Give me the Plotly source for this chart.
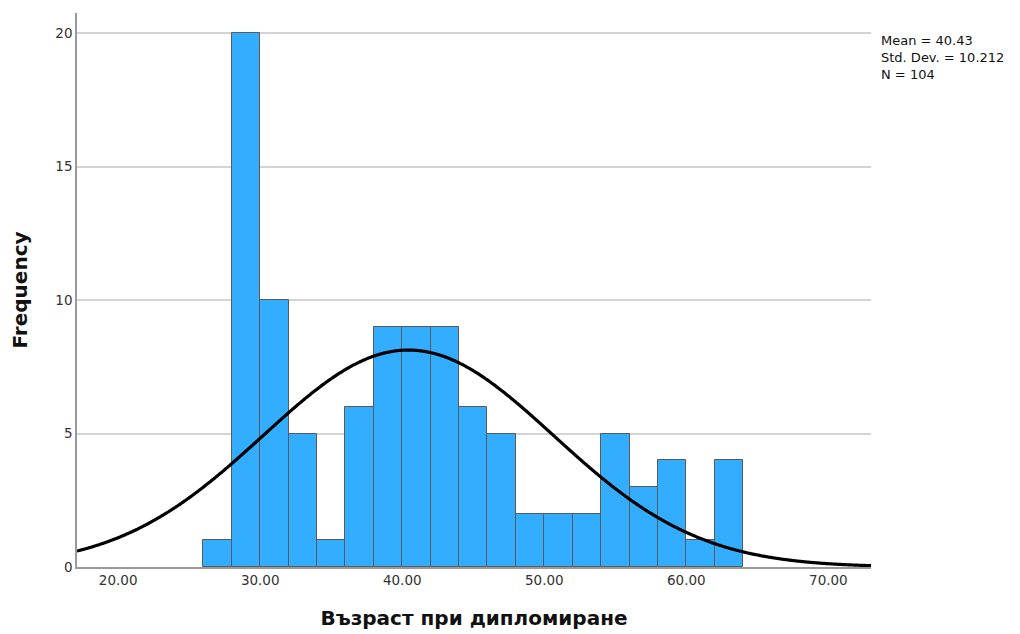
import numpy as np
import plotly.graph_objects as go

# Histogram bins (lower edges), bin width 2
bin_starts = [26, 28, 30, 32, 34, 36, 38, 40, 42, 44, 46, 48, 50, 52, 54, 56, 58, 60, 62]
counts = [1, 20, 10, 5, 1, 6, 9, 9, 9, 6, 5, 2, 2, 2, 5, 3, 4, 1, 4]
bin_width = 2

# Summary statistics shown on the chart
mean = 40.43
std_dev = 10.212
n = 104

x_tick_vals = [20, 30, 40, 50, 60, 70]
x_tick_text = ["20.00", "30.00", "40.00", "50.00", "60.00", "70.00"]
y_tick_vals = [0, 5, 10, 15, 20]

x_min, x_max = 17.1, 73.0

centers = [s + bin_width / 2 for s in bin_starts]

fig = go.Figure()
fig.add_trace(go.Bar(
    x=centers, y=counts, width=bin_width,
    marker=dict(color="#33adff", line=dict(color="#5a5a5a", width=1)),
    hoverinfo="x+y", showlegend=False,
))

# Normal curve implied by mean / std. dev. / N
xs = np.linspace(x_min, x_max, 600)
ys = n * bin_width / (std_dev * np.sqrt(2 * np.pi)) * np.exp(-0.5 * ((xs - mean) / std_dev) ** 2)
fig.add_trace(go.Scatter(x=xs, y=ys, mode="lines",
                         line=dict(color="black", width=3.2, shape="spline"), showlegend=False,
                         hoverinfo="skip"))

fig.add_annotation(
    xref="paper", yref="paper", x=1.0, y=1.0, xanchor="left", yanchor="top",
    xshift=8, yshift=-18, align="left", showarrow=False,
    text=f"Mean = {mean:.2f}<br>Std. Dev. = {std_dev:.3f}<br>N = {n}",
    font=dict(family="DejaVu Sans", size=13, color="#111"),
)

fig.update_layout(
    width=1020, height=634,
    margin=dict(l=69, r=157, t=5, b=75),
    paper_bgcolor="white", plot_bgcolor="white",
    bargap=0,
    font=dict(family="DejaVu Sans", color="#333"),
    xaxis=dict(
        range=[x_min, x_max], tickvals=x_tick_vals, ticktext=x_tick_text,
        showgrid=False, zeroline=False, showline=True, linecolor="#999", linewidth=1.5,
        ticks="", tickfont=dict(size=13.5, color="#333"),
        title=dict(text="<b>Възраст при дипломиране</b>", font=dict(size=20, color="#111"), standoff=24),
    ),
    yaxis=dict(
        range=[0, 20.75], tickvals=y_tick_vals,
        showgrid=True, gridcolor="#d4d4d4", gridwidth=1.5, zeroline=False,
        showline=True, linecolor="#999", linewidth=1.5,
        ticks="", tickfont=dict(size=13.5, color="#333"),
        title=dict(text="<b>Frequency</b>", font=dict(size=20, color="#111"), standoff=24),
    ),
)

fig.write_html("out.html")
